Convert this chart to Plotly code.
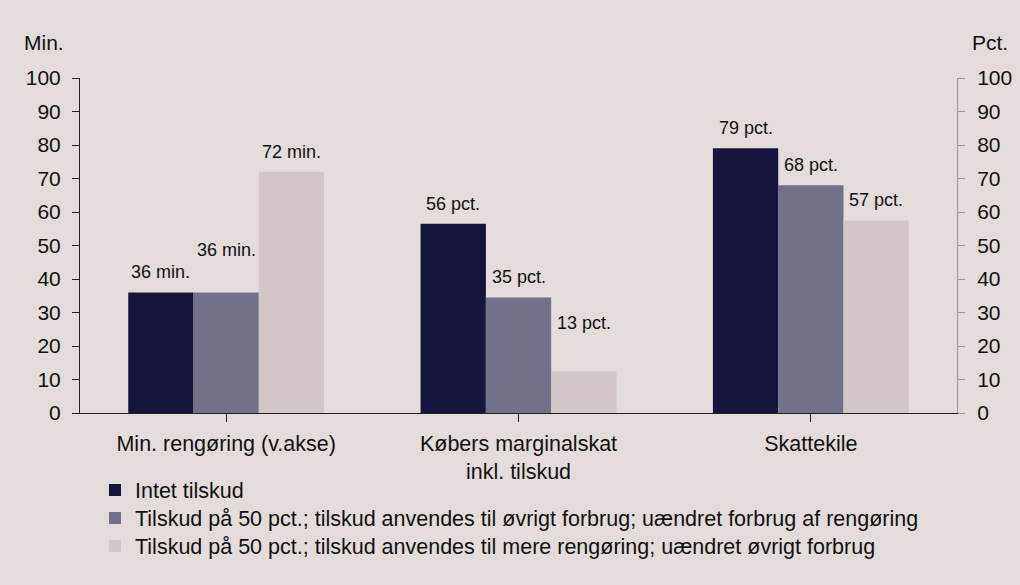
import plotly.graph_objects as go

categories = ["Min. rengøring (v.akse)", "Købers marginalskat<br>inkl. tilskud", "Skattekile"]
series_names = [
    "Intet tilskud",
    "Tilskud på 50 pct.; tilskud anvendes til øvrigt forbrug; uændret forbrug af rengøring",
    "Tilskud på 50 pct.; tilskud anvendes til mere rengøring; uændret øvrigt forbrug",
]
values = [
    [36, 56.5, 79],
    [36, 34.5, 68],
    [72, 12.5, 57.5],
]
labels = [
    ["36 min.", "56 pct.", "79 pct."],
    ["36 min.", "35 pct.", "68 pct."],
    ["72 min.", "13 pct.", "57 pct."],
]
# extra vertical shift (px) of some labels, as placed in the original
label_shift = [
    [0, 0, 0],
    [22, 0, 0],
    [0, 28, 0],
]
colors = ["#14143C", "#72718A", "#D2C7C6"]
y_ticks = [0, 10, 20, 30, 40, 50, 60, 70, 80, 90, 100]

BG = "#E3DCDB"
FONT = "Liberation Sans, Arial, sans-serif"

W, H = 1020, 585
ML, MR, MT, MB = 80, 63, 78, 172
PW, PH = W - ML - MR, H - MT - MB


def px_x(px):
    return (px - ML) / PW


def px_y(py):
    return (H - MB - py) / PH


legend_ids = ["legend", "legend2", "legend3"]
legend_rows = [490, 518, 546]

fig = go.Figure()
for i, name in enumerate(series_names):
    fig.add_trace(go.Bar(
        x=list(range(len(categories))), y=values[i], name=name,
        marker=dict(color=colors[i], line=dict(width=0)),
        offsetgroup=str(i), legend=legend_ids[i],
    ))
# invisible trace to activate right axis
fig.add_trace(go.Scatter(x=[0], y=[0], yaxis="y2", mode="markers",
                         marker=dict(opacity=0), showlegend=False, hoverinfo="skip"))

bargap = 0.33
bw = (1 - bargap) / 3
for i in range(3):
    for j in range(3):
        fig.add_annotation(
            x=j + (i - 1) * bw, y=values[i][j], xref="x", yref="y",
            text=labels[i][j], showarrow=False, yanchor="bottom",
            yshift=8 + label_shift[i][j],
            font=dict(size=18, color="#111111", family=FONT),
        )

fig.add_annotation(x=px_x(22), y=px_y(42), xref="paper", yref="paper",
                   xanchor="left", yanchor="middle", text="Min.", showarrow=False,
                   font=dict(size=21, color="#111111", family=FONT))
fig.add_annotation(x=px_x(1010), y=px_y(42), xref="paper", yref="paper",
                   xanchor="right", yanchor="middle", text="Pct.", showarrow=False,
                   font=dict(size=21, color="#111111", family=FONT))

legend_common = dict(xanchor="left", yanchor="middle", orientation="v",
                     bgcolor="rgba(0,0,0,0)", font=dict(size=21.5), itemwidth=30)

fig.update_layout(
    width=W, height=H,
    paper_bgcolor=BG, plot_bgcolor=BG,
    margin=dict(l=ML, r=MR, t=MT, b=MB, autoexpand=False),
    barmode="group", bargap=bargap, bargroupgap=0,
    font=dict(family=FONT, size=18, color="#111111"),
    xaxis=dict(
        tickmode="array", tickvals=list(range(len(categories))), ticktext=categories,
        range=[-0.5, 2.5], tickson="boundaries", ticks="outside", ticklen=8,
        tickcolor="#222222", showline=True, linecolor="#222222", linewidth=1,
        showgrid=False, zeroline=False, tickfont=dict(size=21.5), ticklabelstandoff=3,
        automargin=False,
    ),
    yaxis=dict(
        range=[0, 100], tickvals=y_ticks, ticks="outside", ticklen=7,
        tickcolor="#222222", showline=True, linecolor="#222222", linewidth=1,
        showgrid=False, zeroline=False, tickfont=dict(size=21), ticklabelstandoff=7,
        automargin=False,
    ),
    yaxis2=dict(
        range=[0, 100], tickvals=y_ticks, overlaying="y", side="right",
        ticks="outside", ticklen=7, tickcolor="#999999", showline=True,
        linecolor="#999999", linewidth=1, showgrid=False, zeroline=False,
        tickfont=dict(size=21), ticklabelstandoff=8, automargin=False,
    ),
    legend=dict(x=px_x(95), y=px_y(legend_rows[0]), **legend_common),
    legend2=dict(x=px_x(95), y=px_y(legend_rows[1]), **legend_common),
    legend3=dict(x=px_x(95), y=px_y(legend_rows[2]), **legend_common),
    showlegend=True,
)

fig.write_html("out.html", post_script="document.body.style.margin='0';",
               config={"displayModeBar": False})
